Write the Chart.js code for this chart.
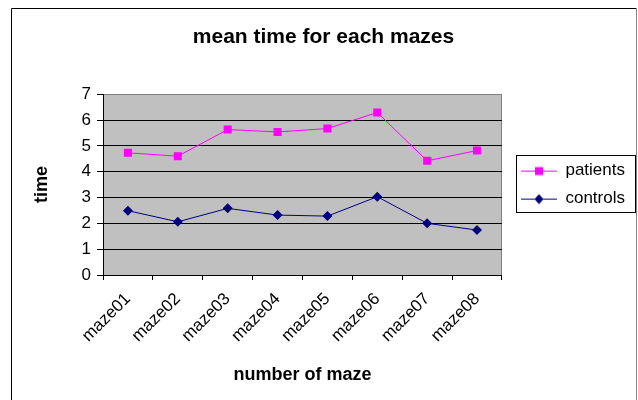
<!DOCTYPE html>
<html>
<head>
<meta charset="utf-8">
<script src="https://cdn.jsdelivr.net/npm/chart.js@4"></script>
<style>
	html, body { margin: 0; padding: 0; background: #fff; }
	#wrap { width: 638px; height: 400px; }
</style>
</head>
<body>
<div id="wrap"><canvas id="chartMazes" width="638" height="400"></canvas></div>
<script>
const mazes = ['maze01', 'maze02', 'maze03', 'maze04', 'maze05', 'maze06', 'maze07', 'maze08'];
const patients = [4.73, 4.6, 5.63, 5.54, 5.67, 6.29, 4.42, 4.82];
const controls = [2.49, 2.06, 2.58, 2.32, 2.28, 3.03, 2.0, 1.74];
const yTicks = [0, 1, 2, 3, 4, 5, 6, 7];

const FONT = 'Liberation Sans, Arial, sans-serif';

// line + marker sample used as legend point style
function legendSample(color, shape) {
	const c = document.createElement('canvas');
	c.width = 44;
	c.height = 12;
	const g = c.getContext('2d');
	g.strokeStyle = color;
	g.fillStyle = color;
	g.lineWidth = 1;
	g.beginPath();
	g.moveTo(8, 6.5);
	g.lineTo(44, 6.5);
	g.stroke();
	g.beginPath();
	if (shape === 'rect') {
		g.rect(22, 2.5, 8, 8);
	} else {
		g.moveTo(26, 1.5);
		g.lineTo(30.5, 6.5);
		g.lineTo(26, 11.5);
		g.lineTo(21.5, 6.5);
		g.closePath();
	}
	g.fill();
	return c;
}

const frame = {
	id: 'excelFrame',
	beforeDraw: (chart) => {
		const {ctx, chartArea: a} = chart;
		ctx.save();
		ctx.fillStyle = '#c0c0c0';
		ctx.fillRect(a.left, a.top, a.right - a.left, a.bottom - a.top);
		ctx.strokeStyle = '#808080';
		ctx.lineWidth = 1;
		ctx.beginPath();
		ctx.moveTo(Math.round(a.right) - 0.5, a.top);
		ctx.lineTo(Math.round(a.right) - 0.5, a.bottom);
		ctx.stroke();
		ctx.restore();
	},
	afterDraw: (chart) => {
		const {ctx} = chart;
		ctx.save();
		ctx.lineWidth = 1;
		ctx.strokeStyle = '#000';
		ctx.beginPath();
		ctx.moveTo(11.5, 400);
		ctx.lineTo(11.5, 8.5);
		ctx.lineTo(636.5, 8.5);
		ctx.stroke();
		ctx.strokeStyle = '#888';
		ctx.beginPath();
		ctx.moveTo(636.5, 8.5);
		ctx.lineTo(636.5, 400);
		ctx.stroke();

		// legend border
		const boxes = chart.legend.legendHitBoxes;
		if (boxes && boxes.length) {
			const top = Math.round(Math.min(...boxes.map(b => b.top)) - 7.5);
			const bottom = Math.round(Math.max(...boxes.map(b => b.top + b.height)) + 4.5);
			const left = Math.round(Math.min(...boxes.map(b => b.left)) + 3);
			ctx.strokeStyle = '#000';
			ctx.strokeRect(left + 0.5, top + 0.5, 635 - left, bottom - top);
		}
		ctx.restore();
	}
};

new Chart(document.getElementById('chartMazes').getContext('2d'), {
	type: 'line',
	data: {
		labels: mazes,
		datasets: [
			{
				label: 'patients',
				data: patients,
				borderColor: '#ff00ff',
				backgroundColor: '#ff00ff',
				borderWidth: 1,
				pointStyle: 'rect',
				pointRadius: 5.7,
				pointBorderWidth: 0,
				tension: 0
			},
			{
				label: 'controls',
				data: controls,
				borderColor: '#000080',
				backgroundColor: '#000080',
				borderWidth: 1,
				pointStyle: 'rectRot',
				pointRadius: 5,
				pointBorderWidth: 0,
				tension: 0
			}
		]
	},
	options: {
		responsive: false,
		animation: false,
		layout: {
			padding: { top: 20, left: 12, right: 3, bottom: 10 }
		},
		scales: {
			x: {
				offset: true,
				grid: {
					offset: true,
					drawOnChartArea: false,
					drawTicks: true,
					tickLength: 5,
					color: '#000',
					tickColor: '#000'
				},
				border: { color: '#000', width: 1 },
				ticks: {
					color: '#000',
					font: { family: FONT, size: 17 },
					minRotation: 45,
					maxRotation: 45,
					padding: 9
				},
				title: {
					display: true,
					text: 'number of maze',
					color: '#000',
					font: { family: FONT, size: 18, weight: 'bold' },
					padding: { top: 0, bottom: 4 }
				},
				afterFit: (s) => { s.height = 115; }
			},
			y: {
				min: 0,
				max: 7,
				afterBuildTicks: (s) => { s.ticks = yTicks.map(v => ({value: v})); },
				grid: {
					color: (c) => c.tick && c.tick.value === 7 ? '#808080' : '#000',
					tickColor: '#000',
					tickLength: 6,
					lineWidth: 1
				},
				border: { color: '#000', width: 1 },
				ticks: {
					color: '#000',
					font: { family: FONT, size: 17 },
					padding: 6
				},
				title: {
					display: true,
					text: 'time',
					color: '#000',
					font: { family: FONT, size: 18, weight: 'bold' },
					padding: { top: 19, bottom: 0 }
				},
				afterFit: (s) => { s.width = 91; }
			}
		},
		plugins: {
			title: {
				display: true,
				text: 'mean time for each mazes',
				color: '#000',
				font: { family: FONT, size: 21, weight: 'bold' },
				padding: { top: 5, bottom: 44 }
			},
			legend: {
				display: true,
				position: 'right',
				fullSize: false,
				labels: {
					usePointStyle: true,
					pointStyleWidth: 44,
					padding: 11,
					color: '#000',
					font: { family: FONT, size: 17 },
					generateLabels: (chart) => chart.data.datasets.map((ds, i) => ({
						text: ds.label,
						pointStyle: legendSample(ds.borderColor, ds.pointStyle),
						fontColor: '#000',
						lineWidth: 0,
						datasetIndex: i
					}))
				}
			},
			tooltip: { enabled: false }
		}
	},
	plugins: [frame]
});
</script>
</body>
</html>
